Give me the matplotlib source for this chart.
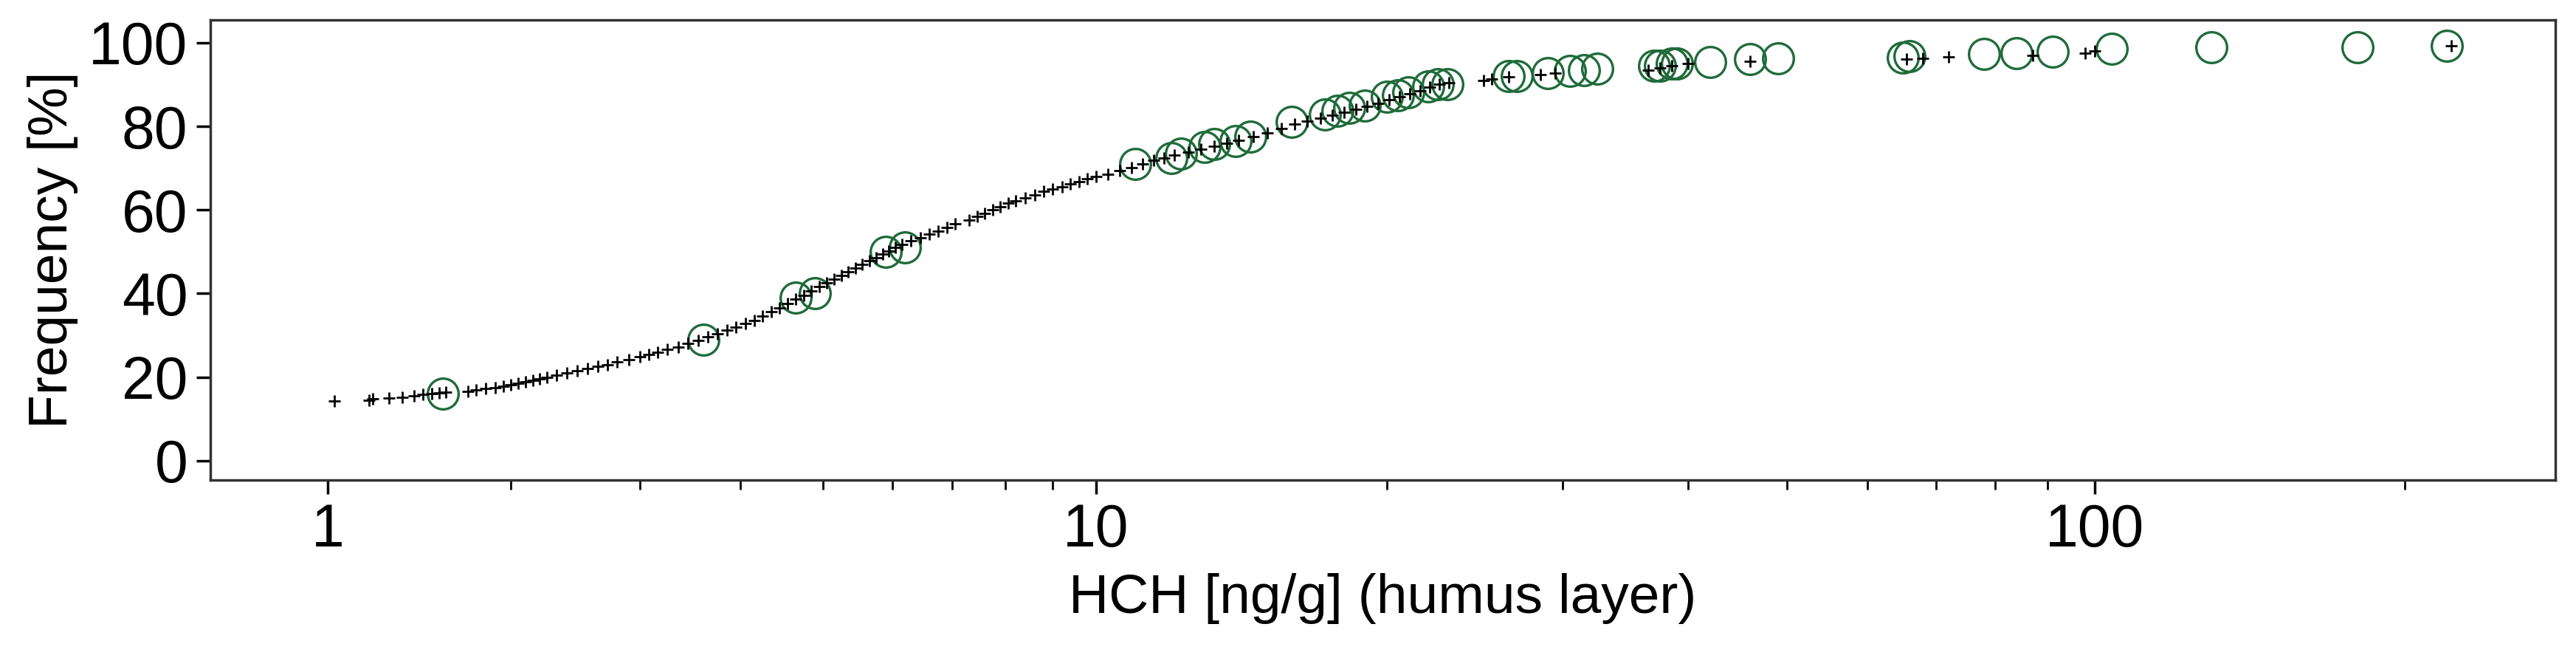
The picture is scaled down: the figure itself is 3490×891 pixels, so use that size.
import numpy as np
import matplotlib
matplotlib.use("Agg")
import matplotlib.pyplot as plt
from matplotlib.ticker import FixedLocator, NullFormatter

plt.rcParams['font.family'] = ['Liberation Sans', 'DejaVu Sans']

cross_x = [1.03, 1.19, 1.21, 1.29, 1.36, 1.42, 1.47, 1.52, 1.56, 1.6, 1.73, 1.78, 1.84, 1.9, 1.95,
           2.0, 2.05, 2.1, 2.15, 2.2, 2.25, 2.32, 2.4, 2.48, 2.56, 2.64, 2.72, 2.8, 2.9, 3.0,
           3.08, 3.16, 3.25, 3.35, 3.45, 3.55, 3.65, 3.75, 3.85, 3.95, 4.05, 4.15, 4.25, 4.35, 4.45,
           4.55, 4.65, 4.75, 4.85, 4.95, 5.05, 5.15, 5.25, 5.35, 5.45, 5.55, 5.65, 5.75, 5.85, 5.95,
           6.05, 6.15, 6.3, 6.45, 6.6, 6.75, 6.9, 7.05, 7.3, 7.45, 7.6, 7.75, 7.9, 8.05, 8.2,
           8.4, 8.6, 8.8, 9.0, 9.2, 9.4, 9.6, 9.8, 10.0, 10.3, 10.6, 10.9, 11.2, 11.5, 11.8,
           12.1, 12.5, 12.9, 13.3, 13.7, 14.1, 14.6, 15.1, 15.6, 16.1, 16.6, 17.1, 17.6, 18.1, 18.6,
           19.1, 19.6, 20.1, 20.6, 21.1, 21.6, 22.1, 22.6, 23.1, 25.0, 25.5, 26.5, 28.5, 29.5, 36.5,
           37.5, 38.5, 40.0, 46.0, 65.5, 68.0, 72.0, 87.0, 98.0, 100.0, 222.0]
cross_y = [14.2, 14.5, 14.8, 15.0, 15.2, 15.5, 15.8, 16.0, 16.2, 16.4, 16.6, 16.9, 17.2, 17.5, 17.8,
           18.1, 18.5, 18.9, 19.2, 19.6, 20.0, 20.5, 21.0, 21.5, 22.0, 22.5, 23.0, 23.6, 24.2, 24.8,
           25.4, 26.0, 26.6, 27.2, 28.0, 28.8, 29.6, 30.4, 31.2, 32.0, 32.8, 33.6, 34.6, 35.6, 36.6,
           37.6, 38.6, 39.6, 40.6, 41.6, 42.5, 43.4, 44.3, 45.2, 46.1, 47.0, 47.8, 48.6, 49.4, 50.2,
           51.0, 51.8, 52.6, 53.4, 54.2, 55.0, 55.8, 56.6, 57.6, 58.4, 59.2, 60.0, 60.8, 61.6, 62.2,
           62.8, 63.6, 64.4, 65.0, 65.6, 66.2, 66.8, 67.4, 68.0, 68.6, 69.4, 70.2, 71.0, 71.8, 72.5,
           73.2, 73.9, 74.6, 75.3, 76.0, 76.7, 77.5, 78.5, 79.5, 80.5, 81.2, 82.0, 82.7, 83.4, 84.1,
           84.8, 85.5, 86.3, 87.1, 87.8, 88.5, 89.3, 90.0, 90.5, 91.0, 91.3, 91.8, 92.3, 92.7, 93.5,
           94.0, 94.5, 95.0, 95.5, 96.0, 96.3, 96.6, 97.0, 97.5, 98.0, 99.3]

circle_x = [1.58, 3.6, 4.65, 4.9, 5.9, 6.2, 11.0, 12.0, 12.3, 13.0, 13.3, 14.0, 14.5, 16.0, 17.3,
            17.8, 18.3, 19.0, 20.0, 20.5, 21.0, 22.0, 22.5, 23.0, 26.5, 27.0, 29.0, 30.5, 31.5, 32.5,
            37.0, 37.5, 38.5, 39.0, 42.0, 46.0, 49.0, 65.0, 66.0, 78.0, 84.0, 91.0, 104.0, 130.0, 180.0, 220.0]
circle_y = [16.0, 29.0, 39.0, 40.0, 50.0, 51.0, 71.0, 72.5, 73.5, 75.0, 75.8, 76.5, 77.5, 81.0, 82.8,
            83.8, 84.5, 85.0, 87.0, 87.5, 88.2, 89.5, 90.0, 90.0, 92.0, 92.0, 92.8, 93.3, 93.5, 93.8,
            94.5, 94.5, 95.0, 95.0, 95.3, 96.0, 96.2, 96.5, 96.8, 97.3, 97.5, 97.8, 98.6, 99.0, 99.0, 99.3]

fwd = lambda x: np.log10(np.maximum(np.asarray(x, float) + 1, 1e-9))
inv = lambda y: 10 ** np.asarray(y, float) - 1

fig = plt.figure(figsize=(34.91, 8.91), dpi=100)
ax = fig.add_axes([0.0816, 0.27, 0.9101, 0.70])
ax.set_xscale('function', functions=(fwd, inv))
ax.set_xlim(0.54, 280)
ax.set_ylim(-4.7, 105.5)

ax.plot(cross_x, cross_y, linestyle='none', marker='+', color='black',
        markersize=11, markeredgewidth=2.0, zorder=3)
ax.plot(circle_x, circle_y, linestyle='none', marker='o', markerfacecolor='none',
        markeredgecolor='#1f6b3a', markersize=30, markeredgewidth=2.4, zorder=2)

ax.xaxis.set_major_locator(FixedLocator([1, 10, 100]))
ax.set_xticklabels(['1', '10', '100'])
minors = [2, 3, 4, 5, 6, 7, 8, 9, 20, 30, 40, 50, 60, 70, 80, 90, 200]
ax.xaxis.set_minor_locator(FixedLocator(minors))
ax.xaxis.set_minor_formatter(NullFormatter())
ax.set_yticks([0, 20, 40, 60, 80, 100])

ax.tick_params(axis='both', which='major', labelsize=58, length=14, width=2.5, direction='out', pad=8)
ax.tick_params(axis='x', which='minor', length=9, width=2, direction='out')
for s in ax.spines.values():
    s.set_linewidth(2.5)
    s.set_color('#333333')

ax.set_xlabel('HCH [ng/g] (humus layer)', fontsize=54, labelpad=14)
ax.set_ylabel('Frequency [%]', fontsize=54, labelpad=10)

fig.savefig('out.png', dpi=100)
